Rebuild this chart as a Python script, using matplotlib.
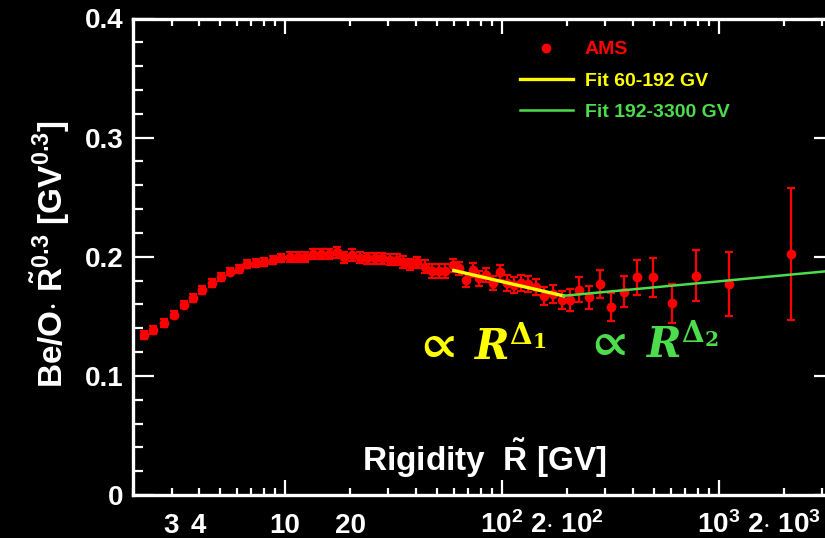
import matplotlib
matplotlib.use('Agg')
import matplotlib.pyplot as plt
from matplotlib.lines import Line2D

# ---------------- data ----------------
rigidity = [2.23, 2.47, 2.76, 3.07, 3.41, 3.76, 4.16, 4.59, 5.05, 5.57,
            6.11, 6.71, 7.38, 8.04, 8.80, 9.64, 10.5, 11.5, 12.4, 13.5,
            14.7, 16.0, 17.3, 18.8, 20.3, 22.1, 24.0, 26.0, 28.1, 30.4,
            32.8, 35.1, 37.8, 40.8, 44.1, 47.6, 51.1, 54.8, 59.4, 63.6,
            68.2, 73.2, 78.8, 84.8, 91.3, 97.9, 105, 114, 123, 132,
            143, 157, 172, 189, 207, 227, 253, 282, 319, 364,
            421, 497, 611, 788, 1116, 2155]
ratio = [0.1345, 0.1388, 0.1441, 0.1515, 0.1599, 0.1651, 0.1724, 0.1780, 0.1830, 0.1876,
         0.1897, 0.1939, 0.1948, 0.1956, 0.1972, 0.1990, 0.2000, 0.1998, 0.2000, 0.2023,
         0.2023, 0.2024, 0.2036, 0.1994, 0.2014, 0.1992, 0.1986, 0.1986, 0.1986, 0.1975,
         0.1975, 0.1955, 0.1935, 0.1952, 0.1918, 0.1880, 0.1880, 0.1880, 0.1930, 0.1903,
         0.1807, 0.1891, 0.1818, 0.1846, 0.1779, 0.1868, 0.1779, 0.1765, 0.1779, 0.1773,
         0.1745, 0.1672, 0.1687, 0.1634, 0.1639, 0.1723, 0.1658, 0.1771, 0.1577, 0.1708,
         0.1826, 0.1826, 0.1608, 0.1840, 0.1773, 0.2023]
ratio_err = [0.0033, 0.0033, 0.0033, 0.0033, 0.0033, 0.0033, 0.0033, 0.0033, 0.0033, 0.0033,
             0.0033, 0.0033, 0.0033, 0.0033, 0.0033, 0.0033, 0.0043, 0.0043, 0.0043, 0.0043,
             0.0043, 0.0043, 0.0043, 0.0048, 0.0048, 0.0048, 0.0048, 0.0048, 0.0048, 0.0048,
             0.0048, 0.0048, 0.0048, 0.0048, 0.0055, 0.0055, 0.0055, 0.0055, 0.0055, 0.0055,
             0.0060, 0.0060, 0.0060, 0.0060, 0.0060, 0.0060, 0.0068, 0.0068, 0.0068, 0.0068,
             0.0068, 0.0076, 0.0076, 0.0076, 0.0092, 0.0105, 0.0100, 0.0118, 0.0118, 0.0134,
             0.0147, 0.0160, 0.0160, 0.0214, 0.0269, 0.0555]

fit1_R = [60, 192]
fit1_val = [0.1885, 0.1672]
fit2_R = [192, 3300]
fit2_val = [0.1672, 0.1882]

legend_labels = ['AMS', 'Fit 60-192 GV', 'Fit 192-3300 GV']

x_major = [10, 100, 1000]
x_major_labels = ['10', r'$10^2$', r'$10^3$']
x_minor = [2, 3, 4, 5, 6, 7, 8, 9, 20, 30, 40, 50, 60, 70, 80, 90,
           200, 300, 400, 500, 600, 700, 800, 900, 2000, 3000]
x_minor_labels = ['', '3', '4', '', '', '', '', '', '20', '', '', '', '', '', '', '',
                  r'2$\cdot$ $10^2$', '', '', '', '', '', '', '', r'2$\cdot$ $10^3$', '']
y_major = [0, 0.1, 0.2, 0.3, 0.4]
y_major_labels = ['0', '0.1', '0.2', '0.3', '0.4']
y_minor = [0.02, 0.04, 0.06, 0.08, 0.12, 0.14, 0.16, 0.18, 0.22, 0.24, 0.26, 0.28,
           0.32, 0.34, 0.36, 0.38]

# ---------------- style ----------------
plt.rcParams['font.family'] = ['Liberation Sans', 'DejaVu Sans']
plt.rcParams['font.weight'] = 'bold'
plt.rcParams['mathtext.fontset'] = 'custom'
plt.rcParams['mathtext.rm'] = 'Liberation Sans:bold'
plt.rcParams['mathtext.it'] = 'Liberation Sans:bold'
plt.rcParams['mathtext.bf'] = 'Liberation Sans:bold'
plt.rcParams['mathtext.sf'] = 'Liberation Sans:bold'

RED = '#ff0000'
YEL = '#ffff00'
GRN = '#4cdc4c'
W = 'white'

fig = plt.figure(figsize=(8.25, 5.38), dpi=100, facecolor='black')
ax = fig.add_axes([133.3 / 825, 43 / 538, 701.7 / 825, 476.5 / 538])
ax.set_facecolor('black')
ax.set_xscale('log')
ax.set_xlim(2.073, 3429)
ax.set_ylim(0, 0.4)

ax.errorbar(rigidity, ratio, yerr=ratio_err, fmt='o', color=RED, ms=6,
            elinewidth=1.6, capsize=3, capthick=1.6, zorder=3)
ax.plot(fit1_R, fit1_val, color=YEL, lw=2.4, zorder=4)
ax.plot(fit2_R, fit2_val, color=GRN, lw=1.8, zorder=4)

for s in ax.spines.values():
    s.set_color(W)
    s.set_linewidth(2.4)

ax.set_xticks(x_major, x_major_labels)
ax.set_xticks(x_minor, x_minor_labels, minor=True)
ax.set_yticks(y_major, y_major_labels)
ax.set_yticks(y_minor, [''] * len(y_minor), minor=True)

ax.tick_params(axis='both', which='both', direction='in', colors=W,
               top=True, right=True, labelsize=20, width=1.6)
ax.tick_params(axis='x', which='major', length=11, pad=27.5)
ax.tick_params(axis='x', which='minor', length=5, pad=27.5)
ax.tick_params(axis='y', which='major', length=15, pad=7)
ax.tick_params(axis='y', which='minor', length=7.5)
for t in ax.xaxis.get_major_ticks() + ax.xaxis.get_minor_ticks():
    t.label1.set_verticalalignment('baseline')

ax.set_ylabel(r'Be/O$\cdot$ $\tilde{R}^{0.3}$ [GV$^{0.3}$]', color=W,
              fontsize=24, fontweight='bold', va='center')
ax.yaxis.set_label_coords(-0.1187, 0.506)
ax.set_xlabel(r'Rigidity  $\tilde{R}$ [GV]', color=W, fontsize=24,
              fontweight='bold', va='baseline')
ax.xaxis.set_label_coords(0.4998, 0.0504)

handles = [Line2D([], [], marker='o', color=RED, ls='none', ms=6),
           Line2D([], [], color=YEL, lw=2.4),
           Line2D([], [], color=GRN, lw=1.8)]
ax.legend(handles, legend_labels, loc='upper left', bbox_to_anchor=(0.5396, 0.9697),
          frameon=False, borderaxespad=0, handlelength=2.73, handletextpad=0.62,
          labelspacing=0.71, labelcolor=[RED, YEL, GRN],
          prop={'family': 'Liberation Sans', 'weight': 'bold', 'size': 14})

# proportionality annotations
ax.text(48.9, 0.126, r'$\propto$', color=YEL, fontsize=34, fontweight='normal',
        ha='center', va='center', math_fontfamily='stix')
ax.text(74.1, 0.1134, r'$\mathbfit{R}^{\Delta_1}$', color=YEL,
        fontsize=30, ha='left', va='baseline', math_fontfamily='dejavuserif')
ax.text(299, 0.1277, r'$\propto$', color=GRN, fontsize=34, fontweight='normal',
        ha='center', va='center', math_fontfamily='stix')
ax.text(461, 0.1151, r'$\mathbfit{R}^{\Delta_2}$', color=GRN,
        fontsize=30, ha='left', va='baseline', math_fontfamily='dejavuserif')

fig.savefig('out.png', dpi=100, facecolor='black')
